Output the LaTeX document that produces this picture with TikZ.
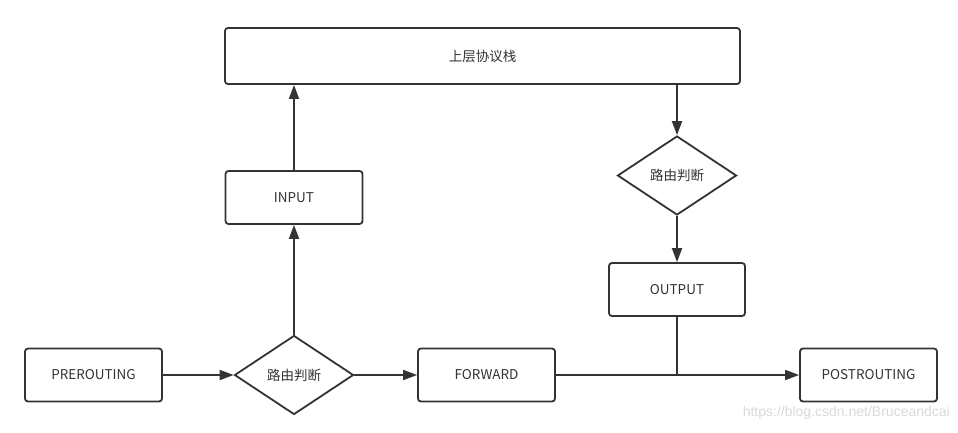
\documentclass[tikz,border=0pt]{standalone}
\usepackage{fontspec}
\setmainfont{Noto Sans CJK SC}
\newfontfamily\wmfont{Liberation Sans}
\usetikzlibrary{shapes.geometric,arrows.meta}
\definecolor{lncol}{HTML}{333333}
\begin{document}
\begin{tikzpicture}[x=1pt,y=-1pt,
  box/.style={draw=lncol,line width=1.8pt,rounded corners=3pt,minimum width=137pt,minimum height=53pt,inner sep=0pt,font=\fontsize{13.5}{15}\selectfont,text=lncol},
  dia/.style={draw=lncol,line width=1.8pt,diamond,aspect=1.5,minimum width=119pt,minimum height=79pt,inner sep=0pt,font=\fontsize{13.5}{15}\selectfont,text=lncol},
  arr/.style={draw=lncol,line width=1.8pt,-{Triangle[length=14pt,width=10pt]}},
  plain/.style={draw=lncol,line width=1.8pt}]
\useasboundingbox (0,0) rectangle (958,432);
\node[box,minimum width=515pt,minimum height=56pt] (top) at (482.5,56) {上层协议栈};
\node[box] (input) at (294,197.5) {INPUT};
\node[dia] (d2) at (677,175.5) {路由判断};
\node[box,minimum width=136pt] (output) at (677,289.5) {OUTPUT};
\node[box] (pre) at (93.5,375) {PREROUTING};
\node[dia] (d1) at (294,375) {路由判断};
\node[box] (fwd) at (486.5,375) {FORWARD};
\node[box] (post) at (868.5,375) {POSTROUTING};
\coordinate (j) at (677,375);
\node[anchor=east,text=black!15,font=\fontsize{14}{16}\selectfont\wmfont,inner sep=0pt] (wm) at (950,413) {https://blog.csdn.net/Bruceandcai};
\draw[arr] (pre) -- (d1);
\draw[arr] (d1) -- (fwd);
\draw[arr] (d1) -- (input);
\draw[arr] (input) -- (input|-top.south);
\draw[arr] (d2|-top.south) -- (d2);
\draw[arr] (d2) -- (output);
\draw[arr] (fwd) -- (post);
\draw[plain] (output) -- (j);
\end{tikzpicture}
\end{document}
